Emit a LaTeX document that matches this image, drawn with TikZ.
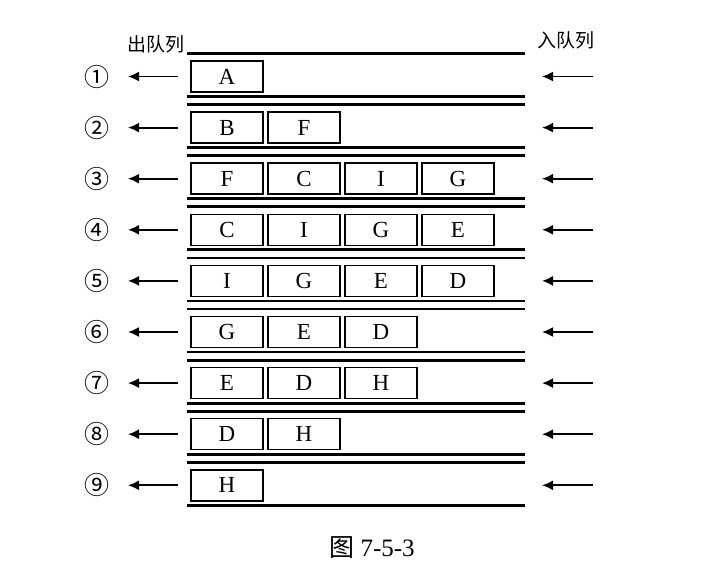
\documentclass[tikz,border=0pt]{standalone}
\usepackage{fontspec}
\setmainfont{Liberation Serif}
\newfontfamily\cjk{Noto Sans CJK SC}
\usetikzlibrary{arrows.meta}

\begin{document}
\begin{tikzpicture}[x=1pt,y=-1pt,
  qbox/.style={draw,line width=1.5pt,minimum width=72pt,minimum height=31pt,
    inner sep=0pt,font=\fontsize{23}{23}\selectfont},
  wall/.style={line width=2.8pt},
  flow/.style={line width=1.8pt,-{Latex[length=11pt,width=10pt]}},
  tag/.style={font=\cjk\fontsize{19}{19}\selectfont},
  stepno/.style={font=\cjk\fontsize{25}{25}\selectfont,inner sep=1pt}]
  \useasboundingbox (0,0) rectangle (720,581);
  \node[tag,anchor=east] (outlabel) at (188,44) {出队列};
  \node[tag] (inlabel) at (566,40) {入队列};
  \foreach \row/\items/\no in {1/{A}/①,2/{B,F}/②,3/{F,C,I,G}/③,
      4/{C,I,G,E}/④,5/{I,G,E,D}/⑤,6/{G,E,D}/⑥,7/{E,D,H}/⑦,
      8/{D,H}/⑧,9/{H}/⑨} {
    \pgfmathsetmacro{\y}{76.5+51.1*(\row-1)}
    \draw[wall] (187,\y-23) -- (525,\y-23);
    \draw[wall] (187,\y+20) -- (525,\y+20);
    \foreach \item [count=\k] in \items
      \node[qbox] (box\row-\k) at (227+77*\k-77,\y) {\item};
    \node[stepno] (num\row) at (97,\y) {\no};
    \coordinate (outstart\row) at (178,\y);
    \coordinate (outend\row) at (128,\y);
    \draw[flow] (outstart\row) -- (outend\row);
    \coordinate (instart\row) at (593,\y);
    \coordinate (inend\row) at (542,\y);
    \draw[flow] (instart\row) -- (inend\row);
  }
  \node[font=\fontsize{25}{25}\selectfont] (caption) at (372,548) {{\cjk 图} 7-5-3};
\end{tikzpicture}
\end{document}
